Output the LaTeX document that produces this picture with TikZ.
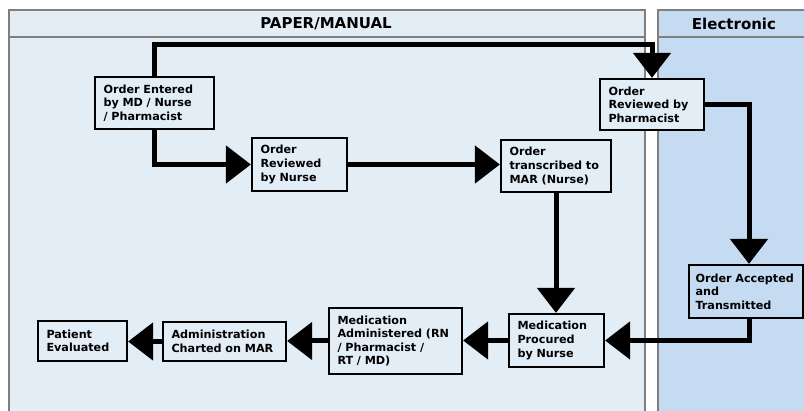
\documentclass[tikz,border=0pt]{standalone}
\usepackage{fontspec}
\setmainfont{DejaVu Sans}
\usetikzlibrary{arrows.meta}
\definecolor{paperbg}{HTML}{E3EDF6}
\definecolor{elecbg}{HTML}{C5DBF1}
\definecolor{framegray}{HTML}{7F7F7F}
\begin{document}
\begin{tikzpicture}[x=1pt,y=-1pt,
  stepbox/.style={draw=black, line width=2.2pt, fill=paperbg, inner xsep=8.5pt, inner ysep=2pt,
    align=left, font=\bfseries\fontsize{11.2}{13.6}\selectfont},
  flow/.style={line width=5pt, -{Triangle[length=25pt,width=37pt]}},
  panel/.style={draw=framegray, line width=1.5pt},
  hdr/.style={font=\bfseries\fontsize{15}{17}\selectfont}]
\useasboundingbox (0,0) rectangle (804,411);
\fill[white] (0,0) rectangle (804,411);
% panels
\fill[paperbg] (9,10) rectangle (645,430);
\draw[panel] (9,430) -- (9,10) -- (645,10) -- (645,430);
\draw[panel] (9,37) -- (645,37);
\fill[elecbg] (658,10) rectangle (830,430);
\draw[panel] (658,430) -- (658,10) -- (830,10);
\draw[panel] (658,37) -- (830,37);
\node[hdr] (ph) at (326,24) {PAPER/MANUAL};
\node[hdr] (eh) at (734,24) {Electronic};
% boxes
\node[stepbox, text width=102pt, minimum height=52pt] (oe) at (154.5,103) {Order Entered\\by MD / Nurse\\/ Pharmacist};
\node[stepbox, text width=78pt, minimum height=53pt] (rn) at (299.5,164.5) {Order\\Reviewed\\by Nurse};
\node[stepbox, text width=93pt, minimum height=52pt] (tm) at (556,166) {Order\\transcribed to\\MAR (Nurse)};
\node[stepbox, text width=87pt, minimum height=51pt] (rp) at (652,104.5) {Order\\Reviewed by\\Pharmacist};
\node[stepbox, fill=elecbg, inner xsep=6.5pt, text width=101pt, minimum height=53pt] (oa) at (746,291.5) {Order Accepted\\and\\Transmitted};
\node[stepbox, text width=78pt, minimum height=53pt] (mp) at (556.5,340.5) {Medication\\Procured\\by Nurse};
\node[stepbox, text width=116pt, minimum height=66pt] (ma) at (395.5,341) {Medication\\Administered (RN\\/ Pharmacist /\\RT / MD)};
\node[stepbox, text width=106pt, minimum height=39pt] (ac) at (224.5,341.5) {Administration\\Charted on MAR};
\node[stepbox, text width=72pt, minimum height=40pt] (pe) at (82.5,341) {Patient\\Evaluated};
% connectors
\draw[flow] (oe.north) |- (rp.north |- 0,45) -- (rp.north);
\draw[flow] (oe.south) |- (rn.west);
\draw[flow] (rn.east) -- (rn.east -| tm.west);
\draw[flow] (rp.east) -| ([xshift=3pt]oa.north);
\draw[flow] (tm.south) -- (tm.south |- mp.north);
\draw[flow] ([xshift=3pt]oa.south) |- (mp.east);
\draw[flow] (mp.west) -- (mp.west -| ma.east);
\draw[flow] (ma.west) -- (ma.west -| ac.east);
\draw[flow] (ac.west) -- (ac.west -| pe.east);
\end{tikzpicture}
\end{document}
